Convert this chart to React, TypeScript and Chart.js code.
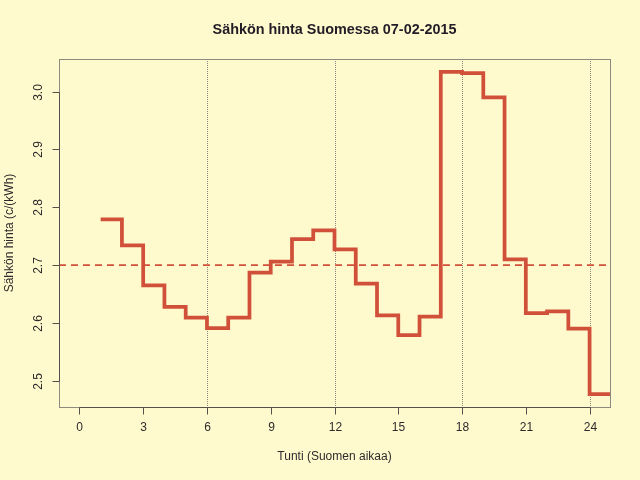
import React, { useEffect, useRef } from "react";
import Chart from "chart.js/auto";

// hourly spot price, c/kWh (hour 25 repeats hour 24 to close the last step)
const hours = [1, 2, 3, 4, 5, 6, 7, 8, 9, 10, 11, 12, 13, 14, 15, 16, 17, 18, 19, 20, 21, 22, 23, 24, 25];
const prices = [
	2.779, 2.734, 2.665, 2.628, 2.609, 2.591, 2.609, 2.687, 2.706, 2.745, 2.76, 2.727,
	2.668, 2.613, 2.579, 2.611, 3.034, 3.032, 2.99, 2.71, 2.617, 2.62, 2.59, 2.477, 2.477,
];
const xTicks = [0, 3, 6, 9, 12, 15, 18, 21, 24];
const yTicks = [2.5, 2.6, 2.7, 2.8, 2.9, 3.0];
const markHours = [6, 12, 18, 24];
const refLevel = 2.7;

const xMin = -0.96;
const xMax = 24.96;
const yMin = 2.4547;
const yMax = 3.0563;

const title = "Sähkön hinta Suomessa 07-02-2015";
const xTitle = "Tunti (Suomen aikaa)";
const yTitle = "Sähkön hinta (c/(kWh)";

const BG = "#fffacd";
const RED = "#d0503a";
const FONT = "'Liberation Sans', Arial, sans-serif";

const px = (v: number) => Math.round(v) + 0.5;

const rStyleAxes = {
	id: "rStyleAxes",
	beforeDraw(chart: any) {
		const { ctx, width, height } = chart;
		ctx.save();
		ctx.fillStyle = BG;
		ctx.fillRect(0, 0, width, height);
		ctx.restore();
	},
	beforeDatasetsDraw(chart: any) {
		const { ctx, chartArea, scales } = chart;
		ctx.save();
		ctx.strokeStyle = "#8c877c";
		ctx.lineWidth = 1;
		ctx.setLineDash([1, 1]);
		markHours.forEach((h) => {
			const x = px(scales.x.getPixelForValue(h));
			ctx.beginPath();
			ctx.moveTo(x, chartArea.top);
			ctx.lineTo(x, chartArea.bottom);
			ctx.stroke();
		});
		ctx.restore();
	},
	afterDraw(chart: any) {
		const { ctx, chartArea, scales } = chart;
		const { left, right, top, bottom } = chartArea;
		ctx.save();
		// box
		ctx.strokeStyle = "#8f8a80";
		ctx.lineWidth = 1;
		ctx.strokeRect(px(left), px(top), Math.round(right - left), Math.round(bottom - top));

		ctx.strokeStyle = "#55504c";
		ctx.fillStyle = "#2e2a2c";
		ctx.font = `12px ${FONT}`;

		// x axis
		const x0 = px(scales.x.getPixelForValue(xTicks[0]));
		const x1 = px(scales.x.getPixelForValue(xTicks[xTicks.length - 1]));
		ctx.beginPath();
		ctx.moveTo(x0, px(bottom));
		ctx.lineTo(x1, px(bottom));
		ctx.stroke();
		ctx.textAlign = "center";
		ctx.textBaseline = "middle";
		xTicks.forEach((t) => {
			const x = px(scales.x.getPixelForValue(t));
			ctx.beginPath();
			ctx.moveTo(x, px(bottom));
			ctx.lineTo(x, px(bottom) + 7);
			ctx.stroke();
			ctx.fillText(String(t), x, 428);
		});

		// y axis
		const y0 = px(scales.y.getPixelForValue(yTicks[0]));
		const y1 = px(scales.y.getPixelForValue(yTicks[yTicks.length - 1]));
		ctx.beginPath();
		ctx.moveTo(px(left), y0);
		ctx.lineTo(px(left), y1);
		ctx.stroke();
		yTicks.forEach((t) => {
			const y = px(scales.y.getPixelForValue(t));
			ctx.beginPath();
			ctx.moveTo(px(left), y);
			ctx.lineTo(px(left) - 7, y);
			ctx.stroke();
			ctx.save();
			ctx.translate(38.5, y);
			ctx.rotate(-Math.PI / 2);
			ctx.fillText(t.toFixed(1), 0, 0);
			ctx.restore();
		});

		// titles
		const cx = (left + right) / 2;
		const cy = (top + bottom) / 2;
		ctx.fillText(xTitle, cx, 457);
		ctx.save();
		ctx.translate(10, cy);
		ctx.rotate(-Math.PI / 2);
		ctx.fillText(yTitle, 0, 0);
		ctx.restore();

		ctx.font = `bold 14.4px ${FONT}`;
		ctx.fillStyle = "#221c26";
		ctx.fillText(title, cx, 30);
		ctx.restore();
	},
};

const App: React.FC = () => {
	const canvasRef = useRef<HTMLCanvasElement | null>(null);

	useEffect(() => {
		if (!canvasRef.current) return;
		const ctx = canvasRef.current.getContext("2d");
		if (!ctx) return;
		const chart = new Chart(ctx, {
			type: "line",
			data: {
				datasets: [
					{
						data: hours.map((h, i) => ({ x: h, y: prices[i] })),
						borderColor: RED,
						borderWidth: 3.75,
						stepped: "before",
						pointRadius: 0,
						fill: false,
						clip: 0,
						order: 1,
					},
					{
						data: [
							{ x: xMin, y: refLevel },
							{ x: xMax, y: refLevel },
						],
						borderColor: RED,
						borderWidth: 1.75,
						borderDash: [7, 5],
						pointRadius: 0,
						fill: false,
						clip: 0,
						order: 2,
					},
				],
			},
			options: {
				animation: false,
				responsive: false,
				devicePixelRatio: 1,
				layout: { padding: { left: 59, top: 59, right: 30, bottom: 73 } },
				scales: {
					x: { type: "linear", min: xMin, max: xMax, display: false },
					y: { type: "linear", min: yMin, max: yMax, display: false },
				},
				plugins: {
					legend: { display: false },
					tooltip: { enabled: false },
				},
			},
			plugins: [rStyleAxes],
		});
		return () => {
			chart.destroy();
		};
	}, []);

	return (
		<div style={{ position: "fixed", left: 0, top: 0, width: 640, height: 480, background: BG }}>
			<canvas ref={canvasRef} width={640} height={480} style={{ width: 640, height: 480 }} />
		</div>
	);
};

export default App;
